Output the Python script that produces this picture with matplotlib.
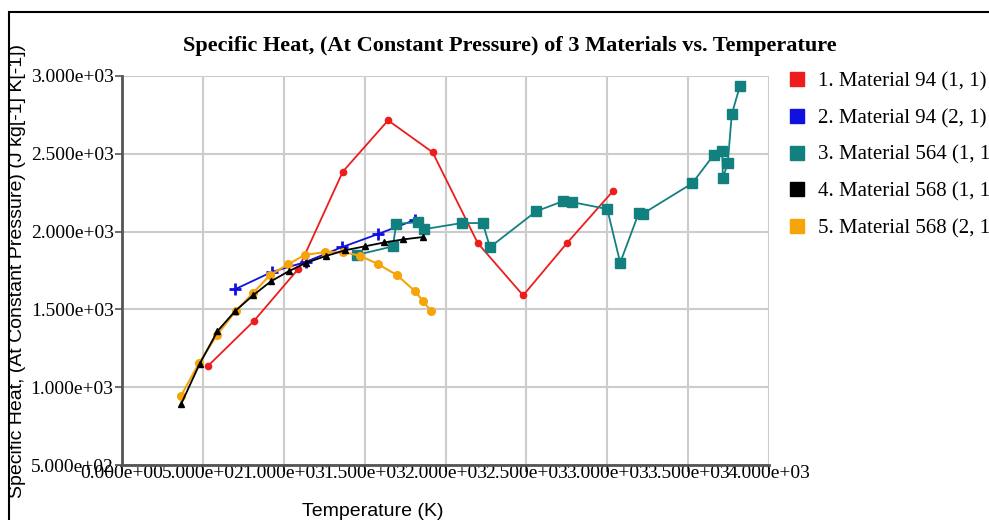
import matplotlib.pyplot as plt
from matplotlib.lines import Line2D
from matplotlib.patches import Rectangle

# Specific heat data
t_m94_a = [530, 815, 1090, 1365, 1645, 1920, 2200, 2480, 2750, 3035]
cp_m94_a = [1135, 1425, 1760, 2385, 2715, 2510, 1925, 1590, 1925, 2260]

t_m94_b = [700, 925, 1135, 1360, 1585, 1810]
cp_m94_b = [1630, 1740, 1805, 1900, 1985, 2075]

t_m564 = [1450, 1675, 1695, 1830, 1865, 2100, 2230, 2275, 2560, 2725, 2780,
          3000, 3080, 3195, 3220, 3525, 3660, 3710, 3715, 3745, 3770, 3820]
cp_m564 = [1850, 1905, 2050, 2060, 2015, 2055, 2055, 1900, 2130, 2195, 2190,
           2145, 1800, 2120, 2115, 2310, 2495, 2515, 2345, 2440, 2755, 2935]

t_m568_a = [365, 480, 590, 700, 810, 920, 1030, 1140, 1260, 1380, 1500, 1620, 1740, 1860]
cp_m568_a = [890, 1150, 1360, 1490, 1590, 1680, 1745, 1800, 1843, 1880, 1905, 1930, 1950, 1965]

t_m568_b = [365, 476, 587, 704, 810, 915, 1026, 1131, 1254, 1366, 1470, 1582, 1700, 1811, 1860, 1910]
cp_m568_b = [945, 1155, 1335, 1490, 1605, 1720, 1790, 1850, 1868, 1869, 1845, 1792, 1720, 1618, 1555, 1490]

labels = ['1. Material 94 (1, 1)', '2. Material 94 (2, 1)', '3. Material 564 (1, 1)',
          '4. Material 568 (1, 1)', '5. Material 568 (2, 1)']
colors = ['#ee1c1c', '#1010e0', '#138080', '#000000', '#f5a40a']

x_ticks = [0, 500, 1000, 1500, 2000, 2500, 3000, 3500, 4000]
y_ticks = [500, 1000, 1500, 2000, 2500, 3000]

plt.rcParams['font.family'] = ['Liberation Serif', 'DejaVu Serif']

fig = plt.figure(figsize=(9.89, 5.2), dpi=100)
ax = fig.add_axes([122 / 989, 1 - 465 / 520, (769 - 122) / 989, (465 - 76) / 520])

ax.plot(t_m94_a, cp_m94_a, color=colors[0], lw=1.3, marker='o', ms=4.5, zorder=3)
ax.plot(t_m94_b, cp_m94_b, color=colors[1], lw=1.3, marker='+', ms=8, mew=2, zorder=3)
ax.plot(t_m564, cp_m564, color=colors[2], lw=1.3, marker='s', ms=7, zorder=3)
ax.plot(t_m568_a, cp_m568_a, color=colors[3], lw=1.3, marker='^', ms=4.5, zorder=4)
ax.plot(t_m568_b, cp_m568_b, color=colors[4], lw=1.5, marker='o', ms=5.5, zorder=3)

ax.set_xlim(0, 4000)
ax.set_ylim(500, 3000)
ax.set_xticks(x_ticks)
ax.set_yticks(y_ticks)
ax.set_xticklabels(['%.3e' % v for v in x_ticks], fontsize=14)
ax.set_yticklabels(['%.3e' % v for v in y_ticks], fontsize=14)
ax.tick_params(length=5, width=1.2, color='#555555')
ax.tick_params(axis='y', pad=1)
ax.tick_params(axis='x', pad=-5)
ax.grid(True, color='#cccccc', lw=1.5)
ax.set_axisbelow(True)
for side in ['top', 'right']:
    ax.spines[side].set_visible(False)
for side in ['left', 'bottom']:
    ax.spines[side].set_color('#555555')
    ax.spines[side].set_linewidth(2)

ax.set_ylabel('Specific Heat, (At Constant Pressure) (J kg[-1] K[-1])',
              family='Liberation Sans', fontsize=14)
ax.yaxis.set_label_coords(-(122 - 18) / 647, 0.5)
ax.yaxis.label.set_va('center')
fig.text(373 / 989, 1 - 512 / 520, 'Temperature (K)', family='Liberation Sans',
         fontsize=14, ha='center', va='center')

fig.text(510 / 989, 1 - 46 / 520,
         'Specific Heat, (At Constant Pressure) of 3 Materials vs. Temperature',
         fontsize=16, fontweight='bold', ha='center', va='center')

# legend runs off the right edge, as in the original export
handles = [Line2D([], [], ls='none', marker='s', ms=10, color=c) for c in colors]
fig.legend(handles, labels, loc='upper left', bbox_to_anchor=(789 / 989, 1 - 72 / 520),
           frameon=False, fontsize=15, handlelength=0.8, handletextpad=0.6,
           labelspacing=0.82, borderaxespad=0, borderpad=0)

fig.patches.append(Rectangle((9 / 989, -0.1), 2, (520 - 12) / 520 + 0.1, fill=False,
                             ec='black', lw=1.5, transform=fig.transFigure))

fig.savefig('out.png', dpi=100)
